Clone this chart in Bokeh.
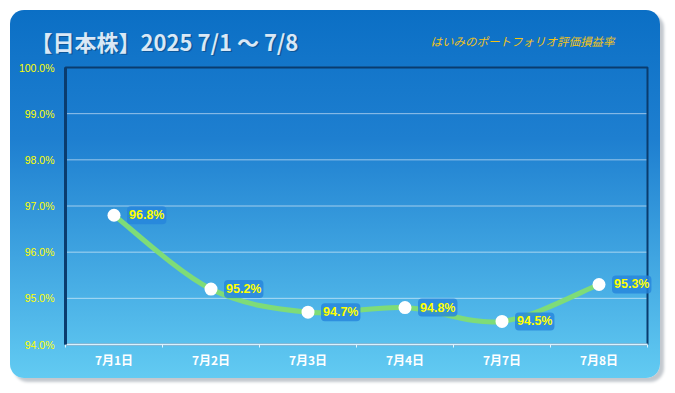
from bokeh.plotting import figure
from bokeh.models import (Label, FixedTicker, Range1d,
                          PrintfTickFormatter, CustomJSTickFormatter)
from bokeh.embed import file_html
from bokeh.resources import INLINE
from bokeh.core.properties import value

# ---- data ----
dates = ["7月1日", "7月2日", "7月3日", "7月4日", "7月7日", "7月8日"]
rates = [96.8, 95.2, 94.7, 94.8, 94.5, 95.3]
y_ticks = [94, 95, 96, 97, 98, 99, 100]
title_text = "【日本株】2025 7/1 ～ 7/8"
subtitle_text = "はいみのポートフォリオ評価損益率"

n = len(dates)
ymin, ymax = y_ticks[0], y_ticks[-1]

# layout (pixels): figure size and margins around the plot area
W, H = 650, 368
PL, PR, PT, PB = 55, 13, 57, 34
sx = (W - PL - PR) / n
sy = (H - PT - PB) / (ymax - ymin)

p = figure(width=W, height=H, output_backend="svg", toolbar_location=None,
           x_range=Range1d(-PL / sx, n + PR / sx),
           y_range=Range1d(ymin - PB / sy, ymax + PT / sy),
           min_border=0)
p.styles = {
    "background": "linear-gradient(to bottom, #0b6fc5 0%, #1e7fd0 35%, #62cbf2 100%)",
    "border-radius": "14px",
    "box-shadow": "4px 4px 3px #c3c8ce",
    "margin-left": "10px",
    "margin-top": "10px",
}
p.border_fill_alpha = 0
p.background_fill_alpha = 0
p.outline_line_color = None

# ---- grid lines (drawn from the tick values) ----
p.xgrid.grid_line_color = None
p.ygrid.grid_line_color = None
p.segment(x0=[0] * len(y_ticks), x1=[n] * len(y_ticks), y0=y_ticks, y1=y_ticks,
          line_color="white", line_alpha=0.55, line_width=1)

# plot-area border
p.quad(left=[0], right=[n], bottom=[ymin], top=[ymax], fill_alpha=0,
       line_color="#0a3c6e", line_width=2)

# ---- axes (fixed at the plot-area edges) ----
p.xaxis.fixed_location = ymin
p.xaxis.bounds = (0, n)
p.xaxis.ticker = FixedTicker(ticks=[i + 0.5 for i in range(n)],
                             minor_ticks=list(range(n + 1)))
p.xaxis.formatter = CustomJSTickFormatter(args=dict(labels=dates),
                                          code="return labels[Math.floor(tick)];")
p.xaxis.axis_line_color = "#d8f2ff"
p.xaxis.axis_line_width = 2
p.xaxis.major_tick_line_color = None
p.xaxis.minor_tick_line_color = "#e0f4ff"
p.xaxis.minor_tick_out = 3
p.xaxis.minor_tick_in = 0
p.xaxis.major_label_text_color = "white"
p.xaxis.major_label_text_font = "Noto Sans CJK JP"
p.xaxis.major_label_text_font_style = "bold"
p.xaxis.major_label_text_font_size = "12px"
p.xaxis.major_label_standoff = 0

p.yaxis.fixed_location = 0
p.yaxis.bounds = (ymin, ymax)
p.yaxis.ticker = FixedTicker(ticks=y_ticks)
p.yaxis.formatter = PrintfTickFormatter(format="%.1f%%")
p.yaxis.axis_line_color = "#0a3c6e"
p.yaxis.axis_line_width = 3
p.yaxis.major_tick_line_color = None
p.yaxis.minor_tick_line_color = None
p.yaxis.major_label_text_color = "#ffff00"
p.yaxis.major_label_text_font = "Liberation Sans"
p.yaxis.major_label_text_font_size = "10.5px"
p.yaxis.major_label_standoff = 5

# ---- smooth line ----
xs = [i + 0.5 for i in range(n)]
bx0, by0, bx1, by1, cx0, cy0, cx1, cy1 = [], [], [], [], [], [], [], []
k = 1 / 6
for i in range(n - 1):
    a, b = max(i - 1, 0), min(i + 2, n - 1)
    bx0.append(xs[i]); by0.append(rates[i])
    bx1.append(xs[i + 1]); by1.append(rates[i + 1])
    cx0.append(xs[i] + (xs[i + 1] - xs[a]) * k)
    cy0.append(rates[i] + (rates[i + 1] - rates[a]) * k)
    cx1.append(xs[i + 1] - (xs[b] - xs[i]) * k)
    cy1.append(rates[i + 1] - (rates[b] - rates[i]) * k)
p.bezier(x0=bx0, y0=by0, x1=bx1, y1=by1, cx0=cx0, cy0=cy0, cx1=cx1, cy1=cy1,
         line_color="#7edc78", line_width=5, line_cap="round")
p.scatter(xs, rates, size=13, fill_color="white", line_color=None)

p.text(x=xs, y=rates, text=[f"{v:.1f}%" for v in rates], x_offset=13,
       text_baseline="middle", text_align="left", text_color="#ffff00",
       text_font=value("Liberation Sans"), text_font_style="bold",
       text_font_size="12.5px", background_fill_color="#2585dc",
       background_fill_alpha=0.8, border_radius=4, padding=2)

# ---- titles (pixel positions inside the panel converted to data space) ----
title_x = (20 - PL) / sx
title_y = ymax + (PT - 30) / sy
sub_x = (420 - PL) / sx
p.add_layout(Label(x=title_x, y=title_y, x_offset=1.5, y_offset=-1.5,
                   text=title_text, text_font="Noto Sans CJK JP",
                   text_font_style="bold", text_font_size="22px",
                   text_color="#0a3a6a", text_alpha=0.5, text_baseline="middle"))
p.add_layout(Label(x=title_x, y=title_y,
                   text=title_text, text_font="Noto Sans CJK JP",
                   text_font_style="bold", text_font_size="22px",
                   text_color="#d9e8f6", text_baseline="middle"))
p.add_layout(Label(x=sub_x, y=title_y,
                   text=subtitle_text, text_font="Noto Sans CJK JP",
                   text_font_style="italic", text_font_size="11.5px",
                   text_color="#f2c318", text_baseline="middle"))

open("out.html", "w").write(file_html(p, INLINE))
